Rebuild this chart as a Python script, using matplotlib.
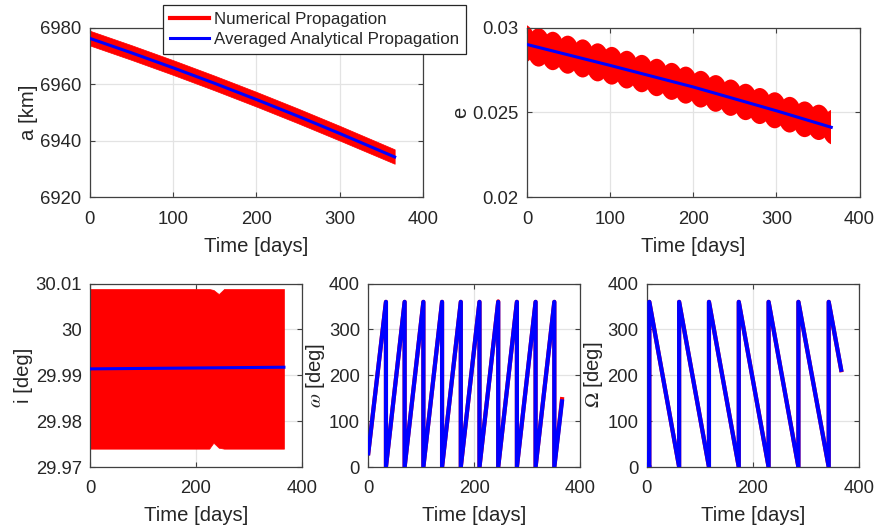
import matplotlib
matplotlib.use("Agg")
import matplotlib.pyplot as plt
from matplotlib.lines import Line2D
from matplotlib.patches import Ellipse, Rectangle

plt.rcParams['font.family'] = ['Liberation Sans', 'DejaVu Sans']
plt.rcParams['mathtext.fontset'] = 'stix'

TXT = '#262626'
EDGE = '#404040'

# semi-major axis: numerical band (upper/lower) and averaged line
a_t = [0, 50, 100, 150, 200, 250, 300, 366]
a_avg = [6976.2, 6971.1, 6965.8, 6960.3, 6954.6, 6948.7, 6942.6, 6934.3]
a_hi = [6978.9, 6973.8, 6968.5, 6963.0, 6957.3, 6951.4, 6945.3, 6937.0]
a_lo = [6973.7, 6968.6, 6963.3, 6957.8, 6952.1, 6946.2, 6940.1, 6931.9]

# eccentricity: numerical band read as a chain of beads (centre day, mid value, half height)
e_bead_t = [-4, 14, 31, 49, 67, 85, 102, 120, 138, 156, 174, 191, 209, 227,
            245, 263, 280, 298, 316, 334, 351, 369]
e_bead_mid = [0.02905, 0.02883, 0.02862, 0.02840, 0.02818, 0.02795, 0.02775,
              0.02752, 0.02729, 0.02706, 0.02683, 0.02661, 0.02637, 0.02612,
              0.02587, 0.02562, 0.02538, 0.02513, 0.02487, 0.02460, 0.02442,
              0.02414]
e_bead_half = [0.00113, 0.00113, 0.00113, 0.00112, 0.00112, 0.00112, 0.00111,
               0.00111, 0.00110, 0.00110, 0.00109, 0.00109, 0.00108, 0.00108,
               0.00107, 0.00107, 0.00106, 0.00106, 0.00105, 0.00105, 0.00104,
               0.00104]
e_end = 366
e_avg_t = [0, 100, 200, 300, 366]
e_avg = [0.02900, 0.02777, 0.02650, 0.02510, 0.02413]

# inclination
i_t = [0, 225, 233, 243, 253, 366]
i_hi = [30.0088, 30.0088, 30.0086, 30.0077, 30.0088, 30.0088]
i_lo = [29.9740, 29.9740, 29.9753, 29.9742, 29.9740, 29.9740]
i_avg_t = [0, 366]
i_avg = [29.99139, 29.99175]

# argument of perigee (sawtooth vertices)
w_t = [0, 33.4, 33.4, 68.7, 68.7, 104.1, 104.1, 139.4, 139.4, 174.8, 174.8,
       210.1, 210.1, 245.5, 245.5, 280.8, 280.8, 316.1, 316.1, 351.5, 351.5, 366]
w_num = [30, 360, 0, 360, 0, 360, 0, 360, 0, 360, 0,
         360, 0, 361, 0, 360, 0, 360, 0, 360, 0, 148]
w_avg = [30, 360, 0, 360, 0, 360, 0, 360, 0, 360, 0,
         360, 0, 360, 0, 360, 0, 360, 0, 360, 0, 143]

# RAAN (sawtooth vertices)
O_t = [0, 5, 5, 61.1, 61.1, 117.2, 117.2, 173.3, 173.3, 229.4, 229.4,
       285.5, 285.5, 342.5, 342.5, 366]
O_num = [30, 0, 360, 0, 360, 0, 360, 0, 360, 0, 360, 0, 360, 0, 360, 211]
O_avg = [30, 0, 360, 0, 360, 0, 360, 0, 360, 0, 360, 0, 360, 0, 360, 212]

top_xticks = [0, 100, 200, 300, 400]
bot_xticks = [0, 200, 400]
a_ticks = [6920, 6940, 6960, 6980]
e_ticks = [0.02, 0.025, 0.03]
e_labels = ['0.02', '0.025', '0.03']
i_ticks = [29.97, 29.98, 29.99, 30.0, 30.01]
i_labels = ['29.97', '29.98', '29.99', '30', '30.01']
ang_ticks = [0, 100, 200, 300, 400]

fig = plt.figure(figsize=(8.76, 5.31), dpi=100)


def style(ax, xticks, yticks, ylabel, ylabels=None):
    ax.set_xlim(0, 400)
    ax.set_xticks(xticks)
    ax.set_ylim(yticks[0], yticks[-1])
    ax.set_yticks(yticks)
    if ylabels is not None:
        ax.set_yticklabels(ylabels)
    ax.grid(True, color='#e3e3e3', linewidth=0.9)
    ax.set_axisbelow(True)
    for s in ax.spines.values():
        s.set_color(EDGE)
        s.set_linewidth(0.9)
    ax.tick_params(direction='in', length=3.5, width=0.8, color=EDGE,
                   labelsize=13.3, labelcolor=TXT, top=True, right=True)
    ax.tick_params(axis='x', pad=9.5)
    ax.tick_params(axis='y', pad=6)
    ax.set_xlabel('Time [days]', fontsize=14.6, color=TXT, labelpad=6.5)
    ax.set_ylabel(ylabel, fontsize=14.6, color=TXT, labelpad=1.5)


ax1 = fig.add_axes([0.1022, 0.6281, 0.3807, 0.3201])
ax1.fill_between(a_t, a_lo, a_hi, color='red', linewidth=0.5, zorder=2)
ax1.plot(a_t, a_avg, color='blue', linewidth=2.2, zorder=3)
style(ax1, top_xticks, a_ticks, 'a [km]')

ax2 = fig.add_axes([0.6016, 0.6281, 0.3796, 0.3201])
clip = Rectangle((0, 0), e_end, 1, transform=ax2.transData)
for t, m, h in zip(e_bead_t, e_bead_mid, e_bead_half):
    bead = Ellipse((t, m), 27.6, 2 * h, facecolor='red', edgecolor='none', zorder=2)
    ax2.add_patch(bead)
    bead.set_clip_path(clip)
ax2.plot(e_avg_t, e_avg, color='blue', linewidth=2.2, zorder=3)
style(ax2, top_xticks, e_ticks, 'e', e_labels)

ax3 = fig.add_axes([0.1027, 0.1205, 0.2420, 0.3456])
ax3.fill_between(i_t, i_lo, i_hi, color='red', linewidth=0.5, zorder=2)
ax3.plot(i_avg_t, i_avg, color='blue', linewidth=2.2, zorder=3)
style(ax3, bot_xticks, i_ticks, 'i [deg]', i_labels)

ax4 = fig.add_axes([0.4204, 0.1205, 0.2417, 0.3456])
ax4.plot(w_t, w_num, color='red', linewidth=3.0, zorder=2)
ax4.plot(w_t, w_avg, color='blue', linewidth=3.0, zorder=3)
style(ax4, bot_xticks, ang_ticks, r'$\omega$ [deg]')

ax5 = fig.add_axes([0.7382, 0.1205, 0.2427, 0.3456])
ax5.plot(O_t, O_num, color='red', linewidth=3.0, zorder=2)
ax5.plot(O_t, O_avg, color='blue', linewidth=3.0, zorder=3)
style(ax5, bot_xticks, ang_ticks, r'$\Omega$ [deg]')

handles = [Line2D([], [], color='red', linewidth=3),
           Line2D([], [], color='blue', linewidth=2.2)]
leg = ax1.legend(handles, ['Numerical Propagation', 'Averaged Analytical Propagation'],
                 loc='upper right', bbox_to_anchor=(466 / 876, 1 - 5 / 531),
                 bbox_transform=fig.transFigure, borderaxespad=0,
                 fontsize=12.2, frameon=True, fancybox=False, framealpha=1,
                 edgecolor=TXT, handlelength=2.3, handletextpad=0.3,
                 labelspacing=0.3, borderpad=0.42)
leg.get_frame().set_linewidth(0.9)
for t in leg.get_texts():
    t.set_color(TXT)
leg.set_zorder(10)

fig.savefig('out.png', dpi=100)
